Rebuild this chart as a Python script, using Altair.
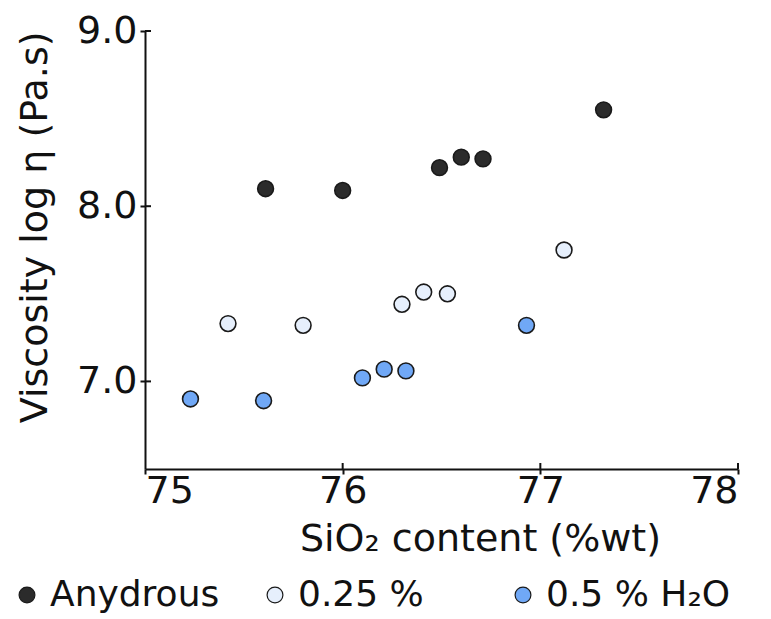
import altair as alt
import pandas as pd

# ---- data ----
series = ["Anydrous", "0.25 %", "0.5 % H₂O"]
colors = ["#2b2b2b", "#e6effc", "#70a8f6"]

anhydrous_x = [75.61, 76.00, 76.49, 76.60, 76.71, 77.32]
anhydrous_y = [8.10, 8.09, 8.22, 8.28, 8.27, 8.55]
w025_x = [75.42, 75.80, 76.30, 76.41, 76.53, 77.12]
w025_y = [7.33, 7.32, 7.44, 7.51, 7.50, 7.75]
w05_x = [75.23, 75.60, 76.10, 76.21, 76.32, 76.93]
w05_y = [6.90, 6.89, 7.02, 7.07, 7.06, 7.32]

x_ticks = [75, 76, 77, 78]
y_ticks = [7.0, 8.0, 9.0]

rows = []
for name, xs, ys in zip(series, [anhydrous_x, w025_x, w05_x], [anhydrous_y, w025_y, w05_y]):
    for xv, yv in zip(xs, ys):
        rows.append({"sio2": xv, "visc": yv, "group": name})
df = pd.DataFrame(rows)

W, H = 593, 438
FONT = "DejaVu Sans"
FS = 38

xscale = alt.Scale(domain=[75, 78], nice=False, zero=False)
yscale = alt.Scale(domain=[6.5, 9.0], nice=False, zero=False)

points = alt.Chart(df).mark_point(
    filled=True, shape="circle", size=250, stroke="#1a1a1a", strokeWidth=1.6, opacity=1
).encode(
    x=alt.X("sio2:Q", scale=xscale,
            axis=alt.Axis(values=x_ticks, format="d", title="SiO₂ content (%wt)",
                          titlePadding=10, labelPadding=-2, titleX=335)),
    y=alt.Y("visc:Q", scale=yscale,
            axis=alt.Axis(values=y_ticks, format=".1f", title="Viscosity log η (Pa.s)",
                          titlePadding=22, labelPadding=3, titleAnchor="end")),
    color=alt.Color("group:N", scale=alt.Scale(domain=series, range=colors),
                    legend=alt.Legend(title=None, orient="none", direction="horizontal",
                                      legendX=-136, legendY=546, columnPadding=22,
                                      gridAlign="all",
                                      symbolSize=250, symbolStrokeColor="#1a1a1a",
                                      symbolStrokeWidth=1.2, labelFontSize=36,
                                      labelFont=FONT, labelColor="#111111", labelLimit=400,
                                      labelOffset=5)),
)

ytick_df = pd.DataFrame({"v": y_ticks})
xtick_df = pd.DataFrame({"v": x_ticks[1:]})

ytick_in = alt.Chart(ytick_df).mark_rule(color="#111111", strokeWidth=2).encode(
    y=alt.Y("v:Q", scale=yscale), x=alt.value(0), x2=alt.value(6)
)
xtick_in = alt.Chart(xtick_df).mark_rule(color="#111111", strokeWidth=2).encode(
    x=alt.X("v:Q", scale=xscale), y=alt.value(H), y2=alt.value(H - 6)
)

chart = alt.layer(points, ytick_in, xtick_in).properties(
    width=W, height=H,
    autosize=alt.AutoSizeParams(type="none"),
    padding={"left": 137, "top": 23, "right": 25, "bottom": 148}
).configure_view(strokeWidth=0).configure_axis(
    domainColor="#111111", domainWidth=2, tickColor="#111111", tickWidth=2, tickSize=5,
    labelFont=FONT, labelFontSize=FS, labelColor="#111111",
    titleFont=FONT, titleFontSize=FS, titleFontWeight="normal", titleColor="#111111",
    grid=False
)

chart.save("out.html", embed_options={"renderer": "svg", "actions": False})
